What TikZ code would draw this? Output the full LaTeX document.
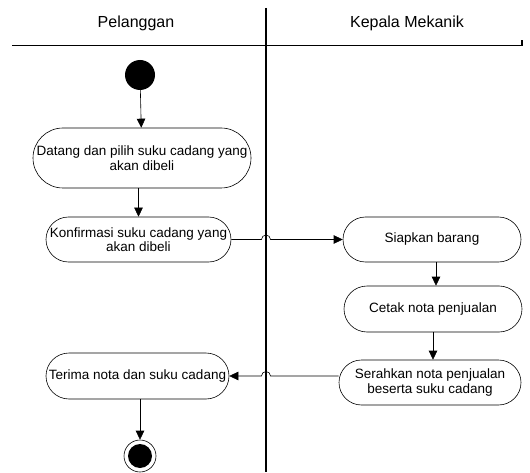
\documentclass[tikz,border=0pt]{standalone}
\usepackage{fontspec}
\setmainfont{Liberation Sans}
\usetikzlibrary{arrows.meta,shapes.misc}
\begin{document}
\begin{tikzpicture}[x=1pt,y=1pt,
  font=\fontsize{13.5}{14.5}\selectfont,
  action/.style={rounded rectangle, draw, line width=0.6pt, align=center,
    inner sep=1pt},
  flow/.style={draw, line width=0.6pt, -{Triangle[length=9pt,width=8.5pt]}},
  lane/.style={line width=1.4pt},
  header/.style={font=\fontsize{16}{18}\selectfont, anchor=base}]
\useasboundingbox (0,0) rectangle (530,472);

% swimlane headers and separators
\node[header] (hp) at (136,444) {Pelanggan};
\node[header] (hk) at (407,444) {Kepala Mekanik};
\draw[lane] (12,426.5) -- (522,426.5) -- (522,432);
\draw[lane] (266,464) -- (266,0);

% initial and final states
\node[circle, fill=black, minimum size=30pt, inner sep=0pt] (st) at (140,397) {};
\node[circle, draw, line width=0.6pt, minimum size=32pt, inner sep=0pt] (en) at (140,16) {};
\node[circle, fill=black, minimum size=24pt, inner sep=0pt] (enc) at (140,16) {};

% actions
\node[action, minimum width=220pt, minimum height=60pt] (b1) at (142,314)
  {Datang dan pilih suku cadang yang\\akan dibeli};
\node[action, minimum width=187pt, minimum height=45pt] (b2) at (138.5,232.5)
  {Konfirmasi suku cadang yang\\akan dibeli};
\node[action, minimum width=180pt, minimum height=45pt] (sp) at (432,232.5)
  {Siapkan barang};
\node[action, minimum width=180pt, minimum height=46pt] (ct) at (433,163)
  {Cetak nota penjualan};
\node[action, minimum width=184pt, minimum height=45pt] (sr) at (430,89.5)
  {Serahkan nota penjualan\\beserta suku cadang};
\node[action, minimum width=185pt, minimum height=46pt] (tr) at (137.5,96)
  {Terima nota dan suku cadang};

% crossing points on the lane divider
\coordinate (j1) at (266,232.5);
\coordinate (j2) at (266,96);

% control flow
\draw[flow] (st) -- (b1);
\draw[flow] (b1.south -| b2.north) -- (b2.north);
\draw[flow] (b2.east) -- ([xshift=-4.5pt]j1) arc[start angle=180, end angle=0, radius=4.5pt] -- (sp.west);
\draw[flow] ([xshift=4pt]sp.south) -- ([xshift=4pt]sp.south |- ct.north);
\draw[flow] (ct.south) -- (ct.south |- sr.north);
\draw[flow] (sr.west |- tr.east) -- ([xshift=4.5pt]j2) arc[start angle=0, end angle=180, radius=4.5pt] -- (tr.east);
\draw[flow] (tr.south -| en.north) -- (en.north);
\end{tikzpicture}
\end{document}
